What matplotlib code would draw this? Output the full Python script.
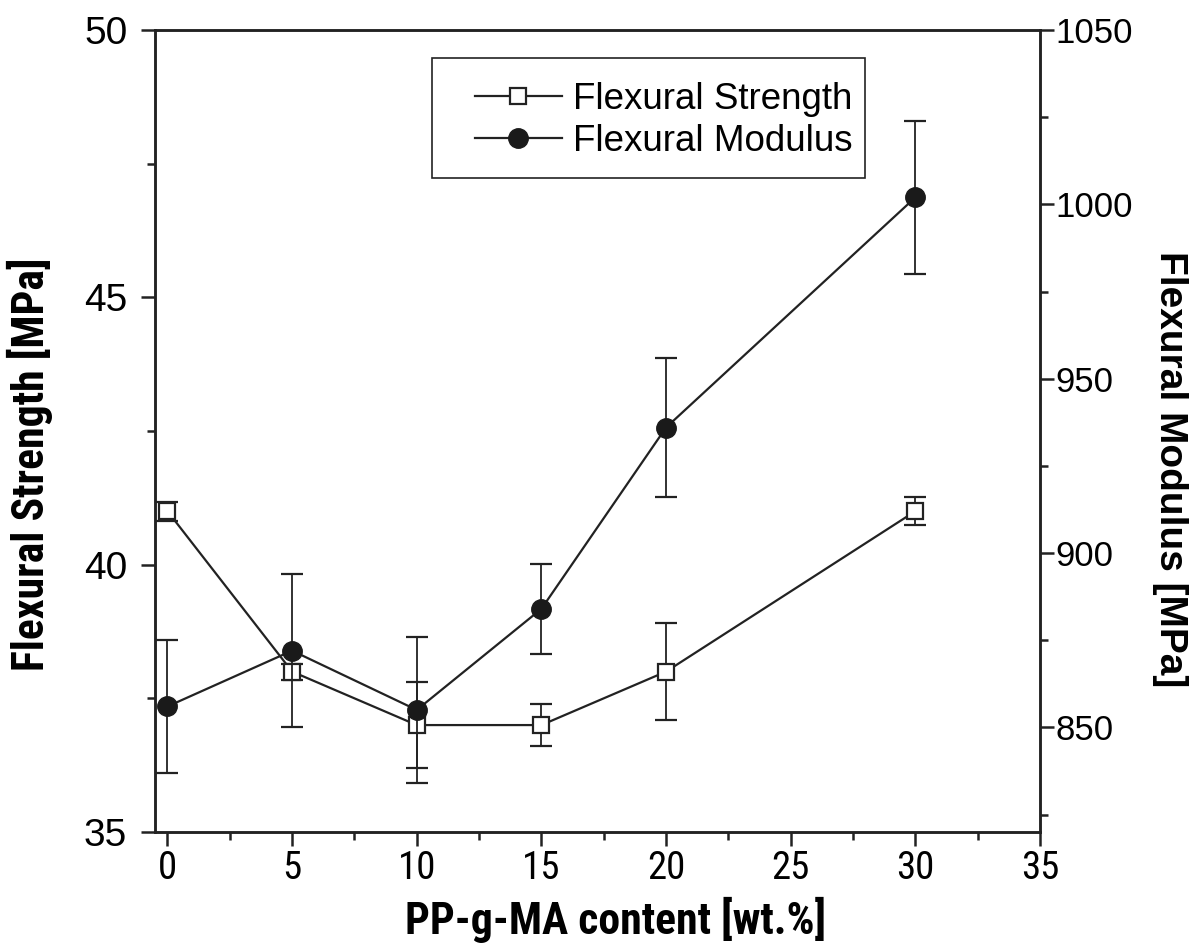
import matplotlib.pyplot as plt
from matplotlib.ticker import MultipleLocator
from matplotlib.patches import Rectangle
from matplotlib import font_manager

# PP-g-MA content [wt.%]
content = [0, 5, 10, 15, 20, 30]

# flexural strength [MPa] and its standard deviation
strength = [41.0, 38.0, 37.0, 37.0, 38.0, 41.0]
strength_err = [0.18, 0.15, 0.8, 0.4, 0.9, 0.26]

# flexural modulus [MPa] and its standard deviation
modulus = [856, 872, 855, 884, 936, 1002]
modulus_err = [19, 22, 21, 13, 20, 22]

# condensed face for the x ticks and the two left-hand labels
names = {f.name for f in font_manager.fontManager.ttflist}
narrow = None
for cand in ['Liberation Sans Narrow', 'DejaVu Sans Condensed', 'Roboto Condensed',
             'Open Sans Condensed', 'Noto Sans Condensed']:
    if cand in names:
        narrow = cand
        break
if narrow is None:
    narrow = 'Liberation Sans'
    xt_size, lab_size = 24, 27
else:
    xt_size, lab_size = 28, 31.5

plt.rcParams['font.family'] = ['Liberation Sans', 'DejaVu Sans']

fig = plt.figure(figsize=(11.97, 9.49), dpi=100)
ax = fig.add_axes([155 / 1197, 1 - 832 / 949, (1040 - 155) / 1197, (832 - 30) / 949])
ax2 = ax.twinx()

ax.errorbar(content, strength, yerr=strength_err, fmt='none', ecolor='#222222',
            elinewidth=1.3, capsize=8, capthick=1.6)
l1, = ax.plot(content, strength, '-s', color='#222222', lw=1.6, ms=11,
              mfc='white', mec='#222222', mew=1.6, label='Flexural Strength')

ax2.errorbar(content, modulus, yerr=modulus_err, fmt='none', ecolor='#222222',
             elinewidth=1.3, capsize=8, capthick=1.6)
l2, = ax2.plot(content, modulus, '-o', color='#222222', lw=1.6, ms=14,
               mfc='#1a1a1a', mec='#1a1a1a', label='Flexural Modulus')

ax.set_xlim(-0.5, 35)
ax.set_ylim(35, 50)
ax2.set_ylim(820, 1050)

ax.xaxis.set_major_locator(MultipleLocator(5))
ax.xaxis.set_minor_locator(MultipleLocator(2.5))
ax.yaxis.set_major_locator(MultipleLocator(5))
ax.yaxis.set_minor_locator(MultipleLocator(2.5))
ax2.yaxis.set_major_locator(MultipleLocator(50))
ax2.yaxis.set_minor_locator(MultipleLocator(25))

for a in (ax, ax2):
    for s in a.spines.values():
        s.set_linewidth(1.8)
        s.set_color('#222222')
    a.tick_params(which='major', direction='out', length=10, width=1.8, color='#222222')
    a.tick_params(which='minor', direction='out', length=6, width=1.8, color='#222222')

ax.tick_params(axis='y', labelsize=28, pad=10)
ax2.tick_params(axis='y', labelsize=25, pad=1)
ax.tick_params(axis='x', labelsize=xt_size, pad=3)
for t in ax.get_xticklabels():
    t.set_family(narrow)

ax.set_xlabel('PP-g-MA content [wt.%]', fontsize=lab_size, fontweight='bold',
              family=narrow, labelpad=7)
ax.set_ylabel('Flexural Strength [MPa]', fontsize=lab_size, fontweight='bold',
              family=narrow, labelpad=22)
ax2.set_ylabel('Flexural Modulus [MPa]', fontsize=28, fontweight='bold',
               rotation=270, labelpad=40)
# axis titles sit a little off the middle of their axes
ax.xaxis.label.set_x(0.52)
ax.yaxis.label.set_y(0.458)
ax2.yaxis.label.set_y(0.452)

# legend: frameless, with its own box drawn round it
leg = ax2.legend(handles=[l1, l2], loc='center left', bbox_to_anchor=(0.3616, 0.887),
                 fontsize=26.5, numpoints=1, handlelength=2.35, frameon=False,
                 borderpad=0, borderaxespad=0, handletextpad=0.3, labelspacing=0.19)
ax2.add_patch(Rectangle((0.313, 0.8155), 0.4893, 0.1496, transform=ax2.transAxes,
                        fill=False, edgecolor='#222222', lw=1.2, zorder=5))

fig.savefig('out.png', dpi=100)
